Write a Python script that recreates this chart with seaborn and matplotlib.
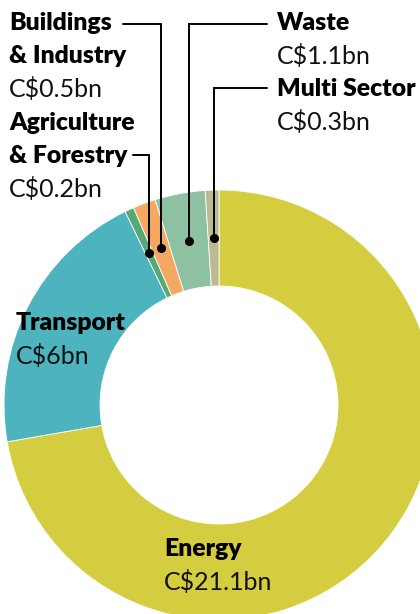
import numpy as np
import matplotlib
matplotlib.use("Agg")
import matplotlib.pyplot as plt
import seaborn as sns

# ---- data ----
sectors = ["Energy", "Transport", "Agriculture\n& Forestry", "Buildings\n& Industry", "Waste", "Multi Sector"]
values = [21.1, 6, 0.2, 0.5, 1.1, 0.3]
value_labels = ["C$21.1bn", "C$6bn", "C$0.2bn", "C$0.5bn", "C$1.1bn", "C$0.3bn"]
colors = ["#D5CD40", "#4DB3BF", "#55A977", "#F5A862", "#8EC1A1", "#BCBA92"]

sns.set_theme(style="white")
plt.rcParams["font.family"] = ["Lato", "DejaVu Sans"]

W, H = 420, 614
fig = plt.figure(figsize=(W / 100, H / 100), dpi=100)
ax = fig.add_axes([0, 0, 1, 1])

cx, cy_px, R, Rin = 219, 405, 215, 119
cy = H - cy_px
ax.pie(values, colors=colors, startangle=90, counterclock=False,
       radius=R, center=(cx, cy),
       wedgeprops=dict(width=R - Rin, edgecolor="white", linewidth=0.6))
ax.set_xlim(0, W)
ax.set_ylim(0, H)
ax.set_aspect("equal")
ax.axis("off")

# wedge mid angles (clockwise from 12 o'clock)
tot = sum(values)
cum = np.cumsum([0] + values)
mids = (cum[:-1] + np.array(values) / 2) / tot * 2 * np.pi
rmid = (R + Rin) / 2
dot_x = cx + rmid * np.sin(mids)
dot_y = cy + rmid * np.cos(mids)

def Y(y):
    return H - y

FS_B = 17.8
FS_R = 18

def label(x, y, name, val, ha="left"):
    lines = name.split("\n")
    for i, ln in enumerate(lines):
        ax.text(x, Y(y + 33 * i), ln, fontsize=FS_B, fontweight="heavy",
                color="black", ha=ha, va="center")
    ax.text(x, Y(y + 33 * len(lines)), val, fontsize=FS_R, fontweight="normal",
            color="#111111", ha=ha, va="center")

# labels
label(9, 23, sectors[3], value_labels[3])
label(9, 123, sectors[2], value_labels[2])
label(277, 23, sectors[4], value_labels[4])
label(277, 89, sectors[5], value_labels[5])
label(16, 323, sectors[1], value_labels[1])
label(164, 549, sectors[0], value_labels[0])

# leader lines
leaders = [(3, 24, 123), (2, 155, 133), (4, 24, 267), (5, 88, 267)]
for idx, ly, lx in leaders:
    dx, dy = dot_x[idx], dot_y[idx]
    ax.plot([lx, dx, dx], [Y(ly), Y(ly), dy], color="black", lw=1.4,
            solid_joinstyle="miter")
    ax.plot(dx, dy, "o", color="black", ms=5.5)

fig.savefig("out.png", dpi=100)
